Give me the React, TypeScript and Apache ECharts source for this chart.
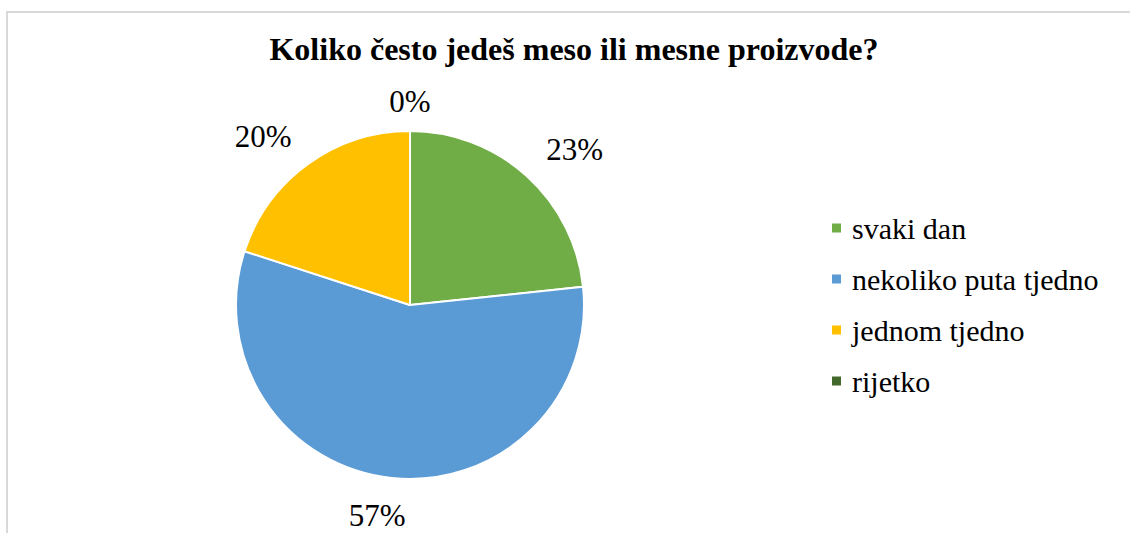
import React, { useEffect, useRef } from "react";
import * as echarts from "echarts";

const titleText = "Koliko često jedeš meso ili mesne proizvode?";
const categories = ["svaki dan", "nekoliko puta tjedno", "jednom tjedno", "rijetko"];
const counts = [7, 17, 6, 0];
const colors = ["#70AD47", "#5B9BD5", "#FFC000", "#43682B"];

// small label nudges (style only) to mimic the spreadsheet's best-fit placement
const labelNudge: [number, number][] = [
  [18, 7],
  [-10, -7],
  [-18, 9],
  [0, 15],
];

const FONT = "Liberation Serif";

export default function App() {
  const ref = useRef<HTMLDivElement>(null);
  useEffect(() => {
    if (!ref.current) return;
    const chart = echarts.init(ref.current, null, { renderer: "svg" });
    const data = categories.map((name, i) => ({
      name,
      value: counts[i],
      itemStyle: { color: colors[i] },
    }));
    chart.setOption({
      animation: false,
      backgroundColor: "#ffffff",
      textStyle: { fontFamily: FONT },
      title: {
        text: titleText,
        left: 574,
        textAlign: "center",
        top: 33,
        padding: 0,
        textStyle: {
          fontFamily: FONT,
          fontWeight: "bold",
          fontSize: 32,
          color: "#000000",
        },
      },
      legend: {
        orient: "vertical",
        left: 830,
        top: 213,
        padding: 0,
        itemWidth: 11,
        itemHeight: 11,
        itemGap: 21,
        icon: "rect",
        data: categories,
        textStyle: {
          fontFamily: FONT,
          fontSize: 30,
          color: "#000000",
          padding: [0, 0, 0, 5],
        },
      },
      graphic: [
        {
          type: "rect",
          z: -1,
          silent: true,
          shape: { x: 7, y: 12, width: 1300, height: 700 },
          style: { fill: "none", stroke: "#d9d9d9", lineWidth: 2 },
        },
      ],
      series: [
        {
          type: "pie",
          center: [410, 305],
          radius: [0, 174],
          startAngle: 90,
          clockwise: true,
          silent: true,
          label: { show: false },
          labelLine: { show: false },
          itemStyle: { borderColor: "#ffffff", borderWidth: 2 },
          data,
        },
        {
          type: "pie",
          center: [410, 305],
          radius: [200, 232],
          startAngle: 90,
          clockwise: true,
          silent: true,
          itemStyle: { color: "rgba(0,0,0,0)", borderWidth: 0 },
          label: {
            show: true,
            position: "inside",
            formatter: (p: any) => Math.round(p.percent) + "%",
            fontFamily: FONT,
            fontSize: 31,
            color: "#000000",
          },
          labelLine: { show: false },
          data: categories.map((name, i) => ({
            name,
            value: counts[i],
            label: { offset: labelNudge[i] },
          })),
        },
      ],
    });
    return () => chart.dispose();
  }, []);
  return (
    <div
      ref={ref}
      style={{ position: "absolute", left: 0, top: 0, width: 1130, height: 533 }}
    />
  );
}
